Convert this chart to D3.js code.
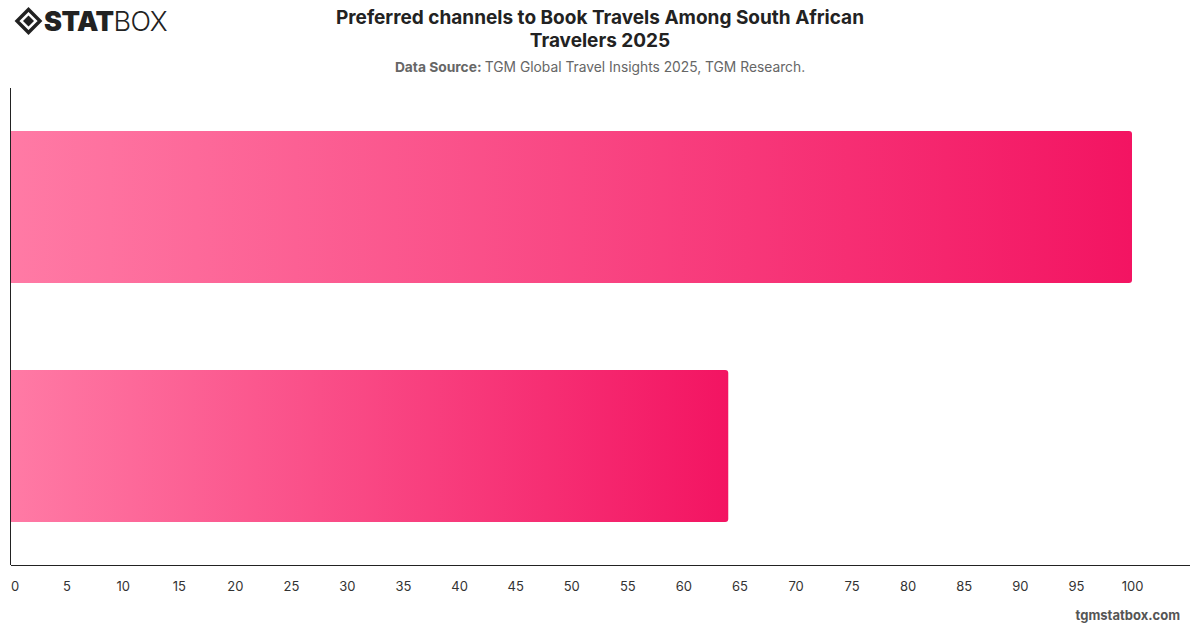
<!DOCTYPE html>
<meta charset="utf-8">
<style>
body { margin: 0; background: #fff; font-family: Inter, "Noto Sans", sans-serif; }
.axis path, .axis line { stroke: #222; shape-rendering: crispEdges; }
.axis text { font-size: 13px; fill: #333; font-family: Inter, sans-serif; }
</style>
<body>
<script src="https://d3js.org/d3.v7.min.js"></script>
<script>

// data
var categories = ["Online", "Offline"];
var values = [100, 64];
var xTicks = d3.range(0, 101, 5);

var width = 1200, height = 628;
var margin = {top: 88, right: 10, bottom: 63, left: 10.5};

var svg = d3.select("body").append("svg")
    .attr("width", width)
    .attr("height", height);

// gradient for the bars
var grad = svg.append("defs").append("linearGradient")
    .attr("id", "barGrad")
    .attr("x1", "0%").attr("x2", "100%").attr("y1", "0%").attr("y2", "0%");
grad.append("stop").attr("offset", "0%").attr("stop-color", "#ff7aa5");
grad.append("stop").attr("offset", "100%").attr("stop-color", "#f31462");

// logo
var logo = svg.append("g").attr("transform", "translate(17,21)");
logo.append("path")
    .attr("d", "M0,0 L11.5,-11.5 L23,0 L11.5,11.5 Z")
    .attr("fill", "none").attr("stroke", "#222").attr("stroke-width", 3.4);
logo.append("path")
    .attr("d", "M6,0 L11.5,-5.5 L17,0 L11.5,5.5 Z")
    .attr("fill", "#222");
logo.append("text")
    .attr("x", 27).attr("y", 9.5)
    .style("font-family", "Inter, sans-serif")
    .style("font-size", "27px")
    .style("letter-spacing", "-0.5px")
    .attr("fill", "#222")
    .call(function(t) {
      t.append("tspan").style("font-weight", 900).text("STAT");
      t.append("tspan").style("font-weight", 300).text("BOX");
    });

// title
svg.append("text")
    .attr("x", 600).attr("y", 24)
    .attr("text-anchor", "middle")
    .style("font-size", "19px").style("font-weight", 700).attr("fill", "#222")
    .text("Preferred channels to Book Travels Among South African");
svg.append("text")
    .attr("x", 600).attr("y", 47)
    .attr("text-anchor", "middle")
    .style("font-size", "19px").style("font-weight", 700).attr("fill", "#222")
    .text("Travelers 2025");

var sub = svg.append("text")
    .attr("x", 600).attr("y", 72)
    .attr("text-anchor", "middle")
    .style("font-size", "13.8px").attr("fill", "#666");
sub.append("tspan").style("font-weight", 700).text("Data Source: ");
sub.append("tspan").text("TGM Global Travel Insights 2025, TGM Research.");

// scales
var x = d3.scaleLinear()
    .domain([0, 100])
    .range([margin.left, 1132]);

var y = d3.scaleBand()
    .domain(categories)
    .range([margin.top, height - margin.bottom])
    .paddingInner(0.364)
    .paddingOuter(0.18);

// bars (rounded right corners)
var r = 3;
svg.selectAll(".bar")
    .data(values)
  .enter().append("path")
    .attr("class", "bar")
    .attr("fill", "url(#barGrad)")
    .attr("d", function(d, i) {
      var x0 = x(0), x1 = x(d), y0 = y(categories[i]), h = y.bandwidth();
      return "M" + x0 + "," + y0 +
             "H" + (x1 - r) +
             "Q" + x1 + "," + y0 + " " + x1 + "," + (y0 + r) +
             "V" + (y0 + h - r) +
             "Q" + x1 + "," + (y0 + h) + " " + (x1 - r) + "," + (y0 + h) +
             "H" + x0 + "Z";
    });

// x axis
var xAxis = svg.append("g")
    .attr("class", "axis")
    .attr("transform", "translate(0," + (height - margin.bottom) + ")")
    .call(d3.axisBottom(x).tickValues(xTicks).tickSize(0).tickPadding(17));
xAxis.select(".domain").attr("d", "M" + margin.left + ",0.5H1190");
xAxis.selectAll("text").filter(function(d) { return d === 0; }).attr("dx", "4px");

// y axis line
svg.append("line")
    .attr("x1", margin.left).attr("x2", margin.left)
    .attr("y1", margin.top).attr("y2", height - margin.bottom)
    .attr("stroke", "#222").attr("stroke-width", 1);

// footer
svg.append("text")
    .attr("x", 1180).attr("y", 620)
    .attr("text-anchor", "end")
    .style("font-size", "13px").style("font-weight", 700).attr("fill", "#555")
    .text("tgmstatbox.com");

</script>
</body>
